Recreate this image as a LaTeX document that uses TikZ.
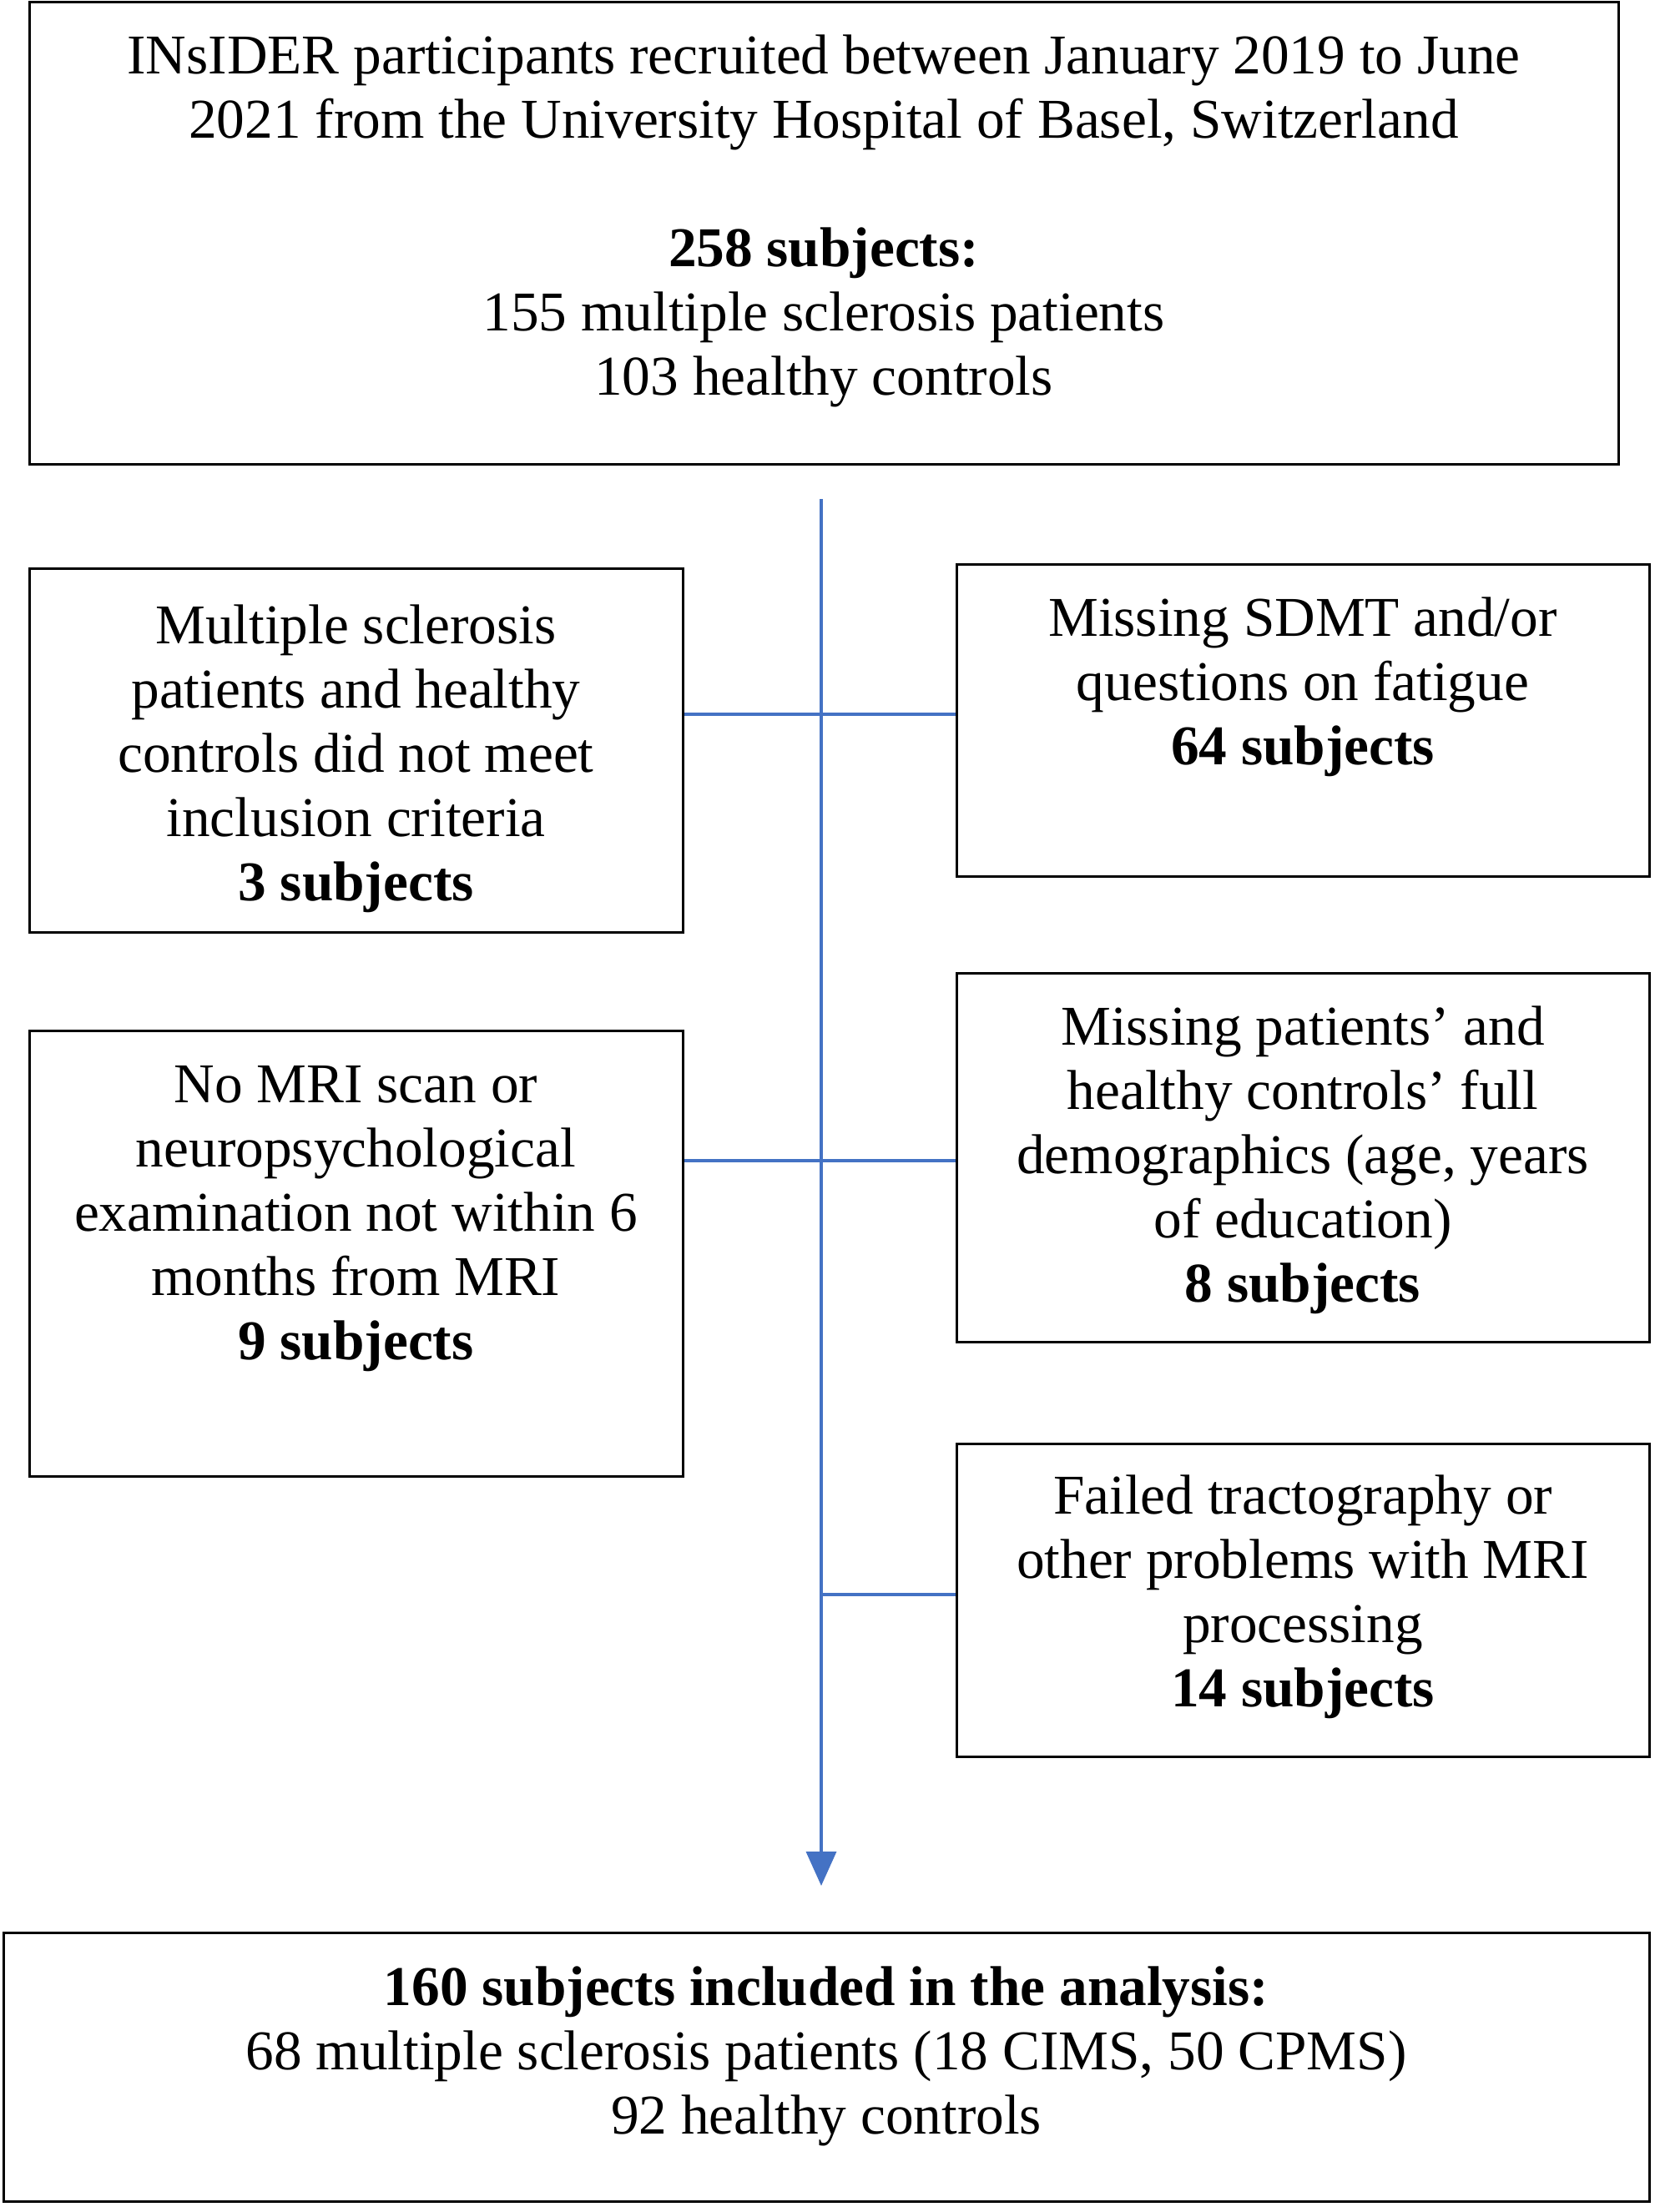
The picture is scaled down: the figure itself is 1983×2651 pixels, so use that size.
\documentclass[tikz,border=0pt]{standalone}
\usepackage{fontspec}
\setmainfont{Liberation Serif}
\usetikzlibrary{arrows.meta}
\definecolor{flowblue}{RGB}{68,114,196}
\begin{document}
\begin{tikzpicture}[x=1pt,y=-1pt,
  box/.style={draw=black, line width=3pt, rectangle, inner sep=0pt},
  txt/.style={anchor=north, inner sep=0pt, align=center, font=\fontsize{67.3}{77}\selectfont},
  conn/.style={draw=flowblue, line width=3.5pt}]
\useasboundingbox (0,0) rectangle (1983,2651);
% boxes
\node[box, minimum width=1904pt, minimum height=554pt] (top) at (987,279) {};
\node[box, minimum width=783pt, minimum height=436pt] (lb1) at (426.5,899) {};
\node[box, minimum width=830pt, minimum height=374pt] (rb1) at (1561,863) {};
\node[box, minimum width=783pt, minimum height=534pt] (lb2) at (426.5,1502) {};
\node[box, minimum width=830pt, minimum height=442pt] (rb2) at (1561,1387) {};
\node[box, minimum width=830pt, minimum height=375pt] (rb3) at (1561,1917.5) {};
\node[box, minimum width=1972pt, minimum height=322pt] (bot) at (990,2477) {};
% texts
\node[txt] (ttop) at (987,42) {INsIDER participants recruited between January 2019 to June\\2021 from the University Hospital of Basel, Switzerland\\[77pt]\textbf{258 subjects:}\\155 multiple sclerosis patients\\103 healthy controls};
\node[txt] (tlb1) at (426.5,725) {Multiple sclerosis\\patients and healthy\\controls did not meet\\inclusion criteria\\\textbf{3 subjects}};
\node[txt] (trb1) at (1561,716) {Missing SDMT and/or\\questions on fatigue\\\textbf{64 subjects}};
\node[txt] (tlb2) at (426.5,1277) {No MRI scan or\\neuropsychological\\examination not within 6\\months from MRI\\\textbf{9 subjects}};
\node[txt] (trb2) at (1561,1206) {Missing patients’ and\\healthy controls’ full\\demographics (age, years\\of education)\\\textbf{8 subjects}};
\node[txt] (trb3) at (1561,1768) {Failed tractography or\\other problems with MRI\\processing\\\textbf{14 subjects}};
\node[txt] (tbot) at (990,2357) {\textbf{160 subjects included in the analysis:}\\68 multiple sclerosis patients (18 CIMS, 50 CPMS)\\92 healthy controls};
% connectors
\coordinate (vstart) at (984,598);
\coordinate (vend) at (984,2260);
\draw[conn, -{Triangle[length=41pt,width=36pt]}] (vstart) -- (vend);
\draw[conn] (lb1.east |- 0,856) -- (rb1.west |- 0,856);
\draw[conn] (lb2.east |- 0,1391) -- (rb2.west |- 0,1391);
\draw[conn] (vstart |- 0,1911) -- (rb3.west |- 0,1911);
\end{tikzpicture}
\end{document}
